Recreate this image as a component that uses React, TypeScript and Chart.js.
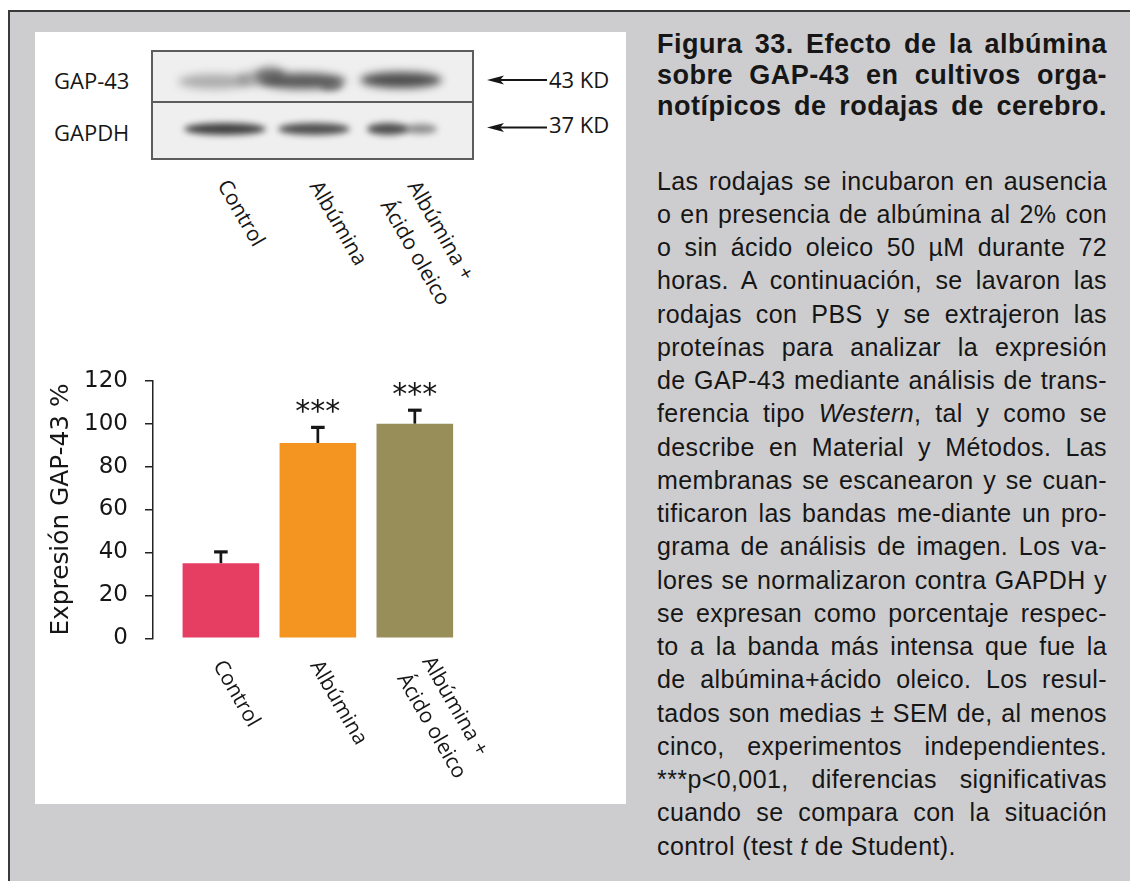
import React, { useEffect, useRef } from 'react';
import { Chart, registerables } from 'chart.js';

Chart.register(...registerables);

// ---------- data ----------
const CATEGORY_LINES: string[][] = [['Control'], ['Albúmina'], ['Albúmina +', 'Ácido oleico']];
const EXPRESSION = [35, 91, 100];
const SEM = [6, 8, 7];
const SIGNIFICANCE = ['', '***', '***'];
const BAR_COLORS = ['#e63d62', '#f49421', '#978e5a'];
const Y_TICKS = [0, 20, 40, 60, 80, 100, 120];
const Y_TITLE = 'Expresión GAP-43 %';
const BLOT_ROWS = ['GAP-43', 'GAPDH'];
const BLOT_MARKERS = ['43 KD', '37 KD'];

const TITLE_LINES = [
  'Figura 33. Efecto de la albúmina',
  'sobre GAP-43 en cultivos orga-',
  'notípicos de rodajas de cerebro.',
];

// each entry: [text, justified]
const BODY_LINES: [React.ReactNode, boolean][] = [
  ['Las rodajas se incubaron en ausencia', true],
  ['o en presencia de albúmina al 2% con', true],
  ['o sin ácido oleico 50 µM durante 72', true],
  ['horas. A continuación, se lavaron las', true],
  ['rodajas con PBS y se extrajeron las', true],
  ['proteínas para analizar la expresión', true],
  ['de GAP-43 mediante análisis de trans-', true],
  [<>ferencia tipo <i>Western</i>, tal y como se</>, true],
  ['describe en Material y Métodos. Las', true],
  ['membranas se escanearon y se cuan-', true],
  ['tificaron las bandas me-diante un pro-', true],
  ['grama de análisis de imagen. Los va-', true],
  ['lores se normalizaron contra GAPDH y', true],
  ['se expresan como porcentaje respec-', true],
  ['to a la banda más intensa que fue la', true],
  ['de albúmina+ácido oleico. Los resul-', true],
  ['tados son medias ± SEM de, al menos', true],
  ['cinco, experimentos independientes.', true],
  ['***p<0,001,  diferencias significativas', true],
  ['cuando se compara con la situación', true],
  [<>control (test <i>t</i> de Student).</>, false],
];

// ---------- layout / style ----------
const GRAY = '#cdcdcf';
const INK = '#161616';
const LABEL_ANGLE = Math.PI / 3;
const LABEL_FONT = '"Open Sans", "DejaVu Sans", sans-serif';
const CHART_LABEL_OFFSETS_SINGLE: [number, number] = [-3, 24];
const CHART_LABEL_OFFSETS_MULTI: [number, number][] = [[12, 20], [-13, 37]];
const BLOT_LABEL_POS: [number, number][][] = [
  [[224, 180.5]],
  [[316, 181.7]],
  [[413.5, 181.7], [386.5, 200.5]],
];
const BLOT_BOX = { left: 151, top: 50, width: 323, height: 110 };
const BLOBS = [
  // upper panel (GAP-43)
  { cx: 214, cy: 81, w: 72, h: 15, c: 'rgba(110,110,110,0.5)', b: 4 },
  { cx: 250, cy: 79, w: 26, h: 14, c: 'rgba(100,100,100,0.5)', b: 4 },
  { cx: 270, cy: 74, w: 30, h: 15, c: 'rgba(75,75,75,0.7)', b: 4 },
  { cx: 302, cy: 81, w: 88, h: 16, c: 'rgba(65,65,65,0.85)', b: 4 },
  { cx: 331, cy: 86, w: 22, h: 10, c: 'rgba(80,80,80,0.6)', b: 3 },
  { cx: 401, cy: 80, w: 82, h: 16, c: 'rgba(55,55,55,0.88)', b: 4 },
  // lower panel (GAPDH)
  { cx: 225, cy: 129, w: 82, h: 12, c: 'rgba(45,45,45,0.9)', b: 3 },
  { cx: 314, cy: 129, w: 72, h: 12, c: 'rgba(50,50,50,0.85)', b: 3 },
  { cx: 388, cy: 129, w: 42, h: 12, c: 'rgba(50,50,50,0.85)', b: 3 },
  { cx: 421, cy: 129, w: 32, h: 10, c: 'rgba(80,80,80,0.6)', b: 3 },
];

const rotatedLabelPlugin = {
  id: 'rotatedLabels',
  afterDraw(chart: any) {
    const { ctx, chartArea } = chart;
    const xs = chart.scales.x;
    ctx.save();
    ctx.font = `21px ${LABEL_FONT}`;
    ctx.fillStyle = INK;
    ctx.textAlign = 'left';
    ctx.textBaseline = 'middle';
    CATEGORY_LINES.forEach((lines, i) => {
      const cx = xs.getPixelForValue(i + 1);
      lines.forEach((t, j) => {
        const off = lines.length === 1 ? CHART_LABEL_OFFSETS_SINGLE : CHART_LABEL_OFFSETS_MULTI[j];
        ctx.save();
        ctx.translate(cx + off[0], chartArea.bottom + off[1]);
        ctx.rotate(LABEL_ANGLE);
        ctx.fillText(t, 0, 0);
        ctx.restore();
      });
    });
    ctx.restore();
  },
};

const errorBarPlugin = {
  id: 'errorBars',
  afterDatasetsDraw(chart: any) {
    const { ctx } = chart;
    const ys = chart.scales.y;
    const meta = chart.getDatasetMeta(0);
    ctx.save();
    ctx.strokeStyle = INK;
    ctx.fillStyle = INK;
    meta.data.forEach((bar: any, i: number) => {
      const top = ys.getPixelForValue(EXPRESSION[i] + SEM[i]);
      ctx.lineWidth = 2.7;
      ctx.beginPath();
      ctx.moveTo(bar.x, bar.y);
      ctx.lineTo(bar.x, top + 1);
      ctx.stroke();
      ctx.lineWidth = 3.2;
      ctx.beginPath();
      ctx.moveTo(bar.x - 6.8, top + 1.6);
      ctx.lineTo(bar.x + 6.8, top + 1.6);
      ctx.stroke();
      if (SIGNIFICANCE[i]) {
        ctx.font = '30px "DejaVu Sans", sans-serif';
        ctx.textAlign = 'center';
        ctx.textBaseline = 'alphabetic';
        ctx.fillText(SIGNIFICANCE[i], bar.x, top - 5);
      }
    });
    ctx.restore();
  },
};

function Line({ children, left, top, width, size, lh, bold, justify, ls }: any) {
  return (
    <div
      style={{
        position: 'absolute',
        left,
        top,
        width,
        fontFamily: '"Liberation Sans", Arial, sans-serif',
        fontSize: size,
        fontWeight: bold ? 700 : 400,
        lineHeight: `${lh}px`,
        letterSpacing: `${ls}px`,
        color: INK,
        textAlign: justify ? 'justify' : 'left',
        textAlignLast: justify ? 'justify' : 'left',
        whiteSpace: 'nowrap',
      } as any}
    >
      {children}
    </div>
  );
}

function RotText({ text, x, y }: { text: string; x: number; y: number }) {
  const lh = 24;
  return (
    <div
      style={{
        position: 'absolute',
        left: x,
        top: y - lh / 2,
        lineHeight: `${lh}px`,
        fontFamily: LABEL_FONT,
        fontSize: 21,
        color: INK,
        whiteSpace: 'nowrap',
        transformOrigin: '0 50%',
        transform: `rotate(${(LABEL_ANGLE * 180) / Math.PI}deg)`,
      }}
    >
      {text}
    </div>
  );
}

function Arrow({ x1, x2, y }: { x1: number; x2: number; y: number }) {
  return (
    <svg style={{ position: 'absolute', left: 0, top: 0, overflow: 'visible' }} width={1} height={1}>
      <line x1={x1 + 6} y1={y} x2={x2} y2={y} stroke={INK} strokeWidth={1.8} />
      <path d={`M${x1},${y} L${x1 + 17},${y - 4.5} L${x1 + 13},${y} L${x1 + 17},${y + 4.5} Z`} fill={INK} />
    </svg>
  );
}

export default function App() {
  const canvasRef = useRef<HTMLCanvasElement>(null);

  useEffect(() => {
    const chart = new Chart(canvasRef.current as HTMLCanvasElement, {
      type: 'bar',
      data: {
        datasets: [
          {
            data: EXPRESSION.map((v, i) => ({ x: i + 1, y: v })) as any,
            backgroundColor: BAR_COLORS,
            borderWidth: 0,
            barPercentage: 0.79,
            categoryPercentage: 1,
          },
        ],
      },
      options: {
        animation: false,
        responsive: false,
        layout: { padding: { left: 0, right: 42, top: 20.7, bottom: 161.7 } },
        plugins: { legend: { display: false }, tooltip: { enabled: false } },
        scales: {
          x: {
            type: 'linear',
            min: 0.3,
            max: 3.6,
            display: false,
            offset: false,
            afterBuildTicks: (s: any) => {
              s.ticks = CATEGORY_LINES.map((_, i) => ({ value: i + 1 }));
            },
          },
          y: {
            min: 0,
            max: 120,
            afterBuildTicks: (s: any) => {
              s.ticks = Y_TICKS.map((v) => ({ value: v }));
            },
            afterFit: (s: any) => {
              s.width = 118;
              s.paddingTop = 0;
              s.paddingBottom = 0;
            },
            ticks: {
              color: INK,
              padding: 17,
              font: { family: '"DejaVu Sans", sans-serif', size: 23 },
            },
            grid: { drawOnChartArea: false, drawTicks: true, tickLength: 8, color: '#222', lineWidth: 1.5 },
            border: { display: true, color: '#222', width: 1.5 },
            title: {
              display: true,
              text: Y_TITLE,
              color: INK,
              font: { family: '"DejaVu Sans", sans-serif', size: 24.8 },
              padding: { top: 11.5, bottom: 0 },
            },
          } as any,
        },
      } as any,
      plugins: [errorBarPlugin, rotatedLabelPlugin],
    });
    return () => chart.destroy();
  }, []);

  const titleBase = [54, 85, 116];
  // Liberation Sans: ascent .905, descent .212
  const baseOff = (size: number, lh: number) => (lh - 1.117 * size) / 2 + 0.905 * size;

  return (
    <div style={{ position: 'fixed', left: 0, top: 0, width: 1130, height: 881, background: '#fff', overflow: 'hidden' }}>
      {/* frame */}
      <div
        style={{
          position: 'absolute',
          left: 8,
          top: 10,
          width: 1122,
          height: 871,
          background: GRAY,
          borderLeft: '2px solid #3a3a3a',
          borderTop: '2px solid #3a3a3a',
          boxSizing: 'border-box',
        }}
      />
      {/* white figure panel */}
      <div style={{ position: 'absolute', left: 35, top: 32, width: 591, height: 772, background: '#fff' }} />

      {/* western blot */}
      <div
        style={{
          position: 'absolute',
          left: BLOT_BOX.left,
          top: BLOT_BOX.top,
          width: BLOT_BOX.width,
          height: BLOT_BOX.height,
          border: '2px solid #5c5c5c',
          boxSizing: 'border-box',
          background: '#efefef',
          overflow: 'hidden',
        }}
      >
        {BLOBS.map((b, i) => (
          <div
            key={i}
            style={{
              position: 'absolute',
              left: b.cx - b.w / 2 - BLOT_BOX.left - 2,
              top: b.cy - b.h / 2 - BLOT_BOX.top - 2,
              width: b.w,
              height: b.h,
              borderRadius: '50%',
              background: b.c,
              filter: `blur(${b.b}px)`,
            }}
          />
        ))}
        <div
          style={{
            position: 'absolute',
            left: 0,
            right: 0,
            top: 102 - BLOT_BOX.top - 3,
            height: 2,
            background: '#5c5c5c',
          }}
        />
      </div>
      {BLOT_ROWS.map((r, i) => (
        <div
          key={r}
          style={{
            position: 'absolute',
            left: 54,
            top: [88, 140][i] - 19.5,
            fontFamily: LABEL_FONT,
            fontSize: 22,
            lineHeight: '22px',
            color: INK,
            whiteSpace: 'nowrap',
          }}
        >
          {r}
        </div>
      ))}
      {BLOT_MARKERS.map((m, i) => (
        <React.Fragment key={m}>
          <Arrow x1={487} x2={547} y={[80, 127.5][i]} />
          <div
            style={{
              position: 'absolute',
              left: 549,
              top: [87, 132][i] - 19.5,
              fontFamily: LABEL_FONT,
              fontSize: 22,
              lineHeight: '22px',
              color: INK,
              whiteSpace: 'nowrap',
            }}
          >
            {m}
          </div>
        </React.Fragment>
      ))}
      {CATEGORY_LINES.map((lines, i) =>
        lines.map((t, j) => <RotText key={`${i}-${j}`} text={t} x={BLOT_LABEL_POS[i][j][0]} y={BLOT_LABEL_POS[i][j][1]} />)
      )}

      {/* bar chart */}
      <canvas
        ref={canvasRef}
        width={480}
        height={440}
        style={{ position: 'absolute', left: 35, top: 360, width: 480, height: 440 }}
      />

      {/* caption */}
      {TITLE_LINES.map((t, i) => (
        <Line key={t} left={657} top={titleBase[i] - baseOff(27, 31)} width={450} size={27} lh={31} ls={0.5} bold justify>
          {t}
        </Line>
      ))}
      {BODY_LINES.map(([t, j], i) => (
        <Line
          key={i}
          left={657}
          top={190 + i * 33.25 - baseOff(25, 33.25)}
          width={450}
          size={25}
          lh={33.25}
          ls={0.4}
          justify={j}
        >
          {t}
        </Line>
      ))}
    </div>
  );
}
